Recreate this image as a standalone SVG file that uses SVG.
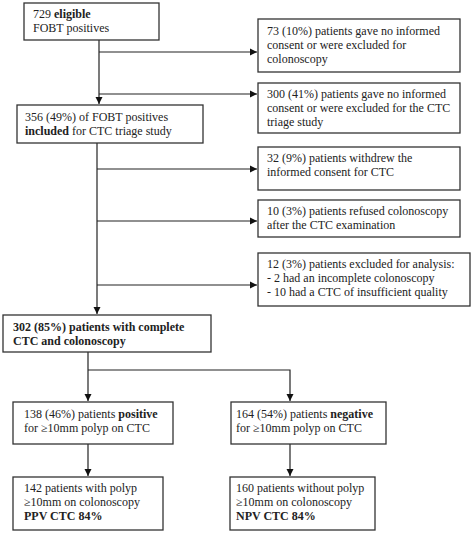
<svg xmlns="http://www.w3.org/2000/svg" width="474" height="533" viewBox="0 0 474 533">
<style>
.n rect{fill:#fff;stroke:#333;stroke-width:1.3}
text{font-family:"Liberation Serif","Times New Roman",Times,serif;font-size:12px;fill:#222}
.b{font-weight:bold}
.c{stroke:#222;stroke-width:1.2;fill:none}
</style>
<defs>
<marker id="a" markerWidth="8" markerHeight="8" refX="7" refY="4" orient="auto" markerUnits="userSpaceOnUse">
<path d="M0,0.5 L7,4 L0,7.5 Z" fill="#111"/>
</marker>
</defs>
<g id="connectors">
<path class="c" d="M99,40 V104" marker-end="url(#a)"/>
<path class="c" d="M99,52 H257" marker-end="url(#a)"/>
<path class="c" d="M99,94 H257" marker-end="url(#a)"/>
<path class="c" d="M97,143 V314" marker-end="url(#a)"/>
<path class="c" d="M97,169 H257" marker-end="url(#a)"/>
<path class="c" d="M97,221 H257" marker-end="url(#a)"/>
<path class="c" d="M97,285 H257" marker-end="url(#a)"/>
<path class="c" d="M88,352 V401" marker-end="url(#a)"/>
<path class="c" d="M88,370 H290 V401" marker-end="url(#a)"/>
<path class="c" d="M88,444 V476" marker-end="url(#a)"/>
<path class="c" d="M290,444 V476" marker-end="url(#a)"/>
</g>
<g id="n1" class="n"><rect x="24" y="3" width="135" height="37"/>
<text x="33" y="18">729 <tspan class="b">eligible</tspan></text>
<text x="33" y="32">FOBT positives</text></g>
<g id="n2" class="n"><rect x="258" y="19" width="202" height="53"/>
<text x="267" y="35">73 (10%) patients gave no informed</text>
<text x="267" y="49">consent or were excluded for</text>
<text x="267" y="63">colonoscopy</text></g>
<g id="n3" class="n"><rect x="258" y="83" width="202" height="50"/>
<text x="267" y="98">300 (41%) patients gave no informed</text>
<text x="267" y="112">consent or were excluded for the CTC</text>
<text x="267" y="126">triage study</text></g>
<g id="n4" class="n"><rect x="17" y="105" width="186" height="38"/>
<text x="25" y="121">356 (49%) of FOBT positives</text>
<text x="25" y="135"><tspan class="b">included</tspan> for CTC triage study</text></g>
<g id="n5" class="n"><rect x="258" y="147" width="202" height="43"/>
<text x="267" y="162">32 (9%) patients withdrew the</text>
<text x="267" y="176">informed consent for CTC</text></g>
<g id="n6" class="n"><rect x="258" y="200" width="202" height="37"/>
<text x="267" y="215">10 (3%) patients refused colonoscopy</text>
<text x="267" y="229">after the CTC examination</text></g>
<g id="n7" class="n"><rect x="258" y="253" width="212" height="53"/>
<text x="267" y="268">12 (3%) patients excluded for analysis:</text>
<text x="267" y="282">- 2 had an incomplete colonoscopy</text>
<text x="267" y="296">- 10 had a CTC of insufficient quality</text></g>
<g id="n8" class="n"><rect x="3" y="315" width="208" height="37"/>
<text x="13" y="331" class="b">302 (85%) patients with complete</text>
<text x="13" y="345" class="b">CTC and colonoscopy</text></g>
<g id="n9" class="n"><rect x="13" y="402" width="160" height="42"/>
<text x="24" y="418">138 (46%) patients <tspan class="b">positive</tspan></text>
<text x="24" y="432">for ≥10mm polyp on CTC</text></g>
<g id="n10" class="n"><rect x="231" y="402" width="155" height="42"/>
<text x="236" y="418">164 (54%) patients <tspan class="b">negative</tspan></text>
<text x="236" y="432">for ≥10mm polyp on CTC</text></g>
<g id="n11" class="n"><rect x="13" y="477" width="150" height="53"/>
<text x="24" y="492">142 patients with polyp</text>
<text x="24" y="506">≥10mm on colonoscopy</text>
<text x="24" y="520" class="b">PPV CTC 84%</text></g>
<g id="n12" class="n"><rect x="230" y="477" width="145" height="53"/>
<text x="236" y="492">160 patients without polyp</text>
<text x="236" y="506">≥10mm on colonoscopy</text>
<text x="236" y="520" class="b">NPV CTC 84%</text></g>
</svg>
